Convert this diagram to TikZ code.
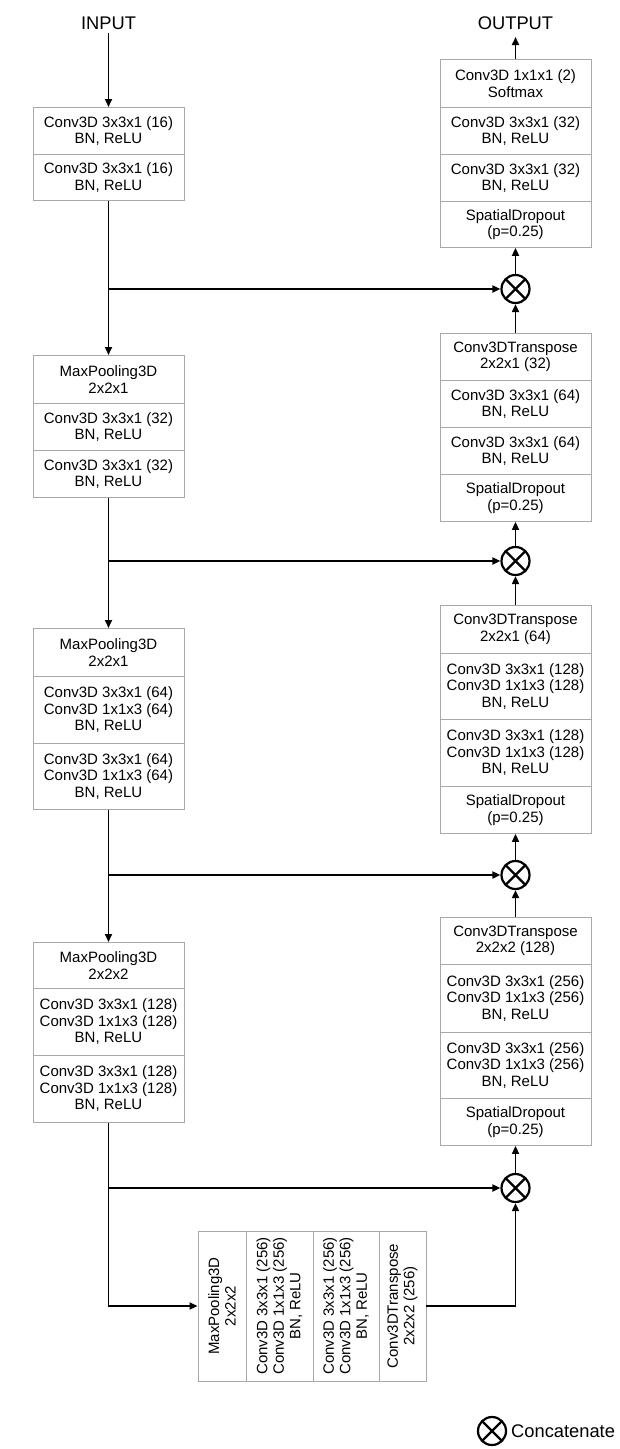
\documentclass[tikz,border=0pt]{standalone}
\usepackage{fontspec}
\setmainfont{Liberation Sans}
\usetikzlibrary{arrows.meta}
\definecolor{boxgray}{HTML}{A8A8A8}
\begin{document}
\begin{tikzpicture}[x=1pt,y=-1pt,
  blk/.style={draw=boxgray, line width=0.9pt, minimum width=151pt, inner sep=0pt,
    align=center, font=\fontsize{15}{16.5}\selectfont, anchor=north},
  vblk/.style={draw=boxgray, line width=0.9pt, minimum width=150pt, inner sep=0pt,
    align=center, font=\fontsize{15}{16.5}\selectfont, rotate=90},
  conc/.style={circle, draw, line width=2.2pt, minimum size=28pt, inner sep=0pt,
    path picture={\draw[line width=2.2pt] (path picture bounding box.north west) -- (path picture bounding box.south east)
      (path picture bounding box.north east) -- (path picture bounding box.south west);}},
  lbl/.style={font=\fontsize{18.3}{20}\selectfont},
  arr/.style={line width=1.8pt, -{Triangle[length=8pt,width=7pt]}},
  ln/.style={line width=1.8pt}
]
\fill[white] (0,0) rectangle (620,1449);
\useasboundingbox (0,0) rectangle (620,1449);

% labels
\node[lbl] (in) at (108.5,23) {INPUT};
\node[lbl] (out) at (515.5,23) {OUTPUT};

% left column
\node[blk, minimum height=47pt] (L1a) at (108.5,107) {Conv3D 3x3x1 (16)\\BN, ReLU};
\node[blk, minimum height=46pt] (L1b) at (108.5,154) {Conv3D 3x3x1 (16)\\BN, ReLU};

\node[blk, minimum height=48pt] (L2a) at (108.5,355) {MaxPooling3D\\2x2x1};
\node[blk, minimum height=47pt] (L2b) at (108.5,403) {Conv3D 3x3x1 (32)\\BN, ReLU};
\node[blk, minimum height=47pt] (L2c) at (108.5,450) {Conv3D 3x3x1 (32)\\BN, ReLU};

\node[blk, minimum height=48pt] (L3a) at (108.5,628) {MaxPooling3D\\2x2x1};
\node[blk, minimum height=67pt] (L3b) at (108.5,676) {Conv3D 3x3x1 (64)\\Conv3D 1x1x3 (64)\\BN, ReLU};
\node[blk, minimum height=66pt] (L3c) at (108.5,743) {Conv3D 3x3x1 (64)\\Conv3D 1x1x3 (64)\\BN, ReLU};

\node[blk, minimum height=46pt] (L4a) at (108.5,942) {MaxPooling3D\\2x2x2};
\node[blk, minimum height=67pt] (L4b) at (108.5,988) {Conv3D 3x3x1 (128)\\Conv3D 1x1x3 (128)\\BN, ReLU};
\node[blk, minimum height=67pt] (L4c) at (108.5,1055) {Conv3D 3x3x1 (128)\\Conv3D 1x1x3 (128)\\BN, ReLU};

% right column
\node[blk, minimum height=48pt] (R1a) at (515.5,59) {Conv3D 1x1x1 (2)\\Softmax};
\node[blk, minimum height=47pt] (R1b) at (515.5,107) {Conv3D 3x3x1 (32)\\BN, ReLU};
\node[blk, minimum height=47pt] (R1c) at (515.5,154) {Conv3D 3x3x1 (32)\\BN, ReLU};
\node[blk, minimum height=46pt] (R1d) at (515.5,201) {SpatialDropout\\(p=0.25)};
\node[conc] (C1) at (515.5,289) {};

\node[blk, minimum height=47pt] (R2a) at (515.5,333) {Conv3DTranspose\\2x2x1 (32)};
\node[blk, minimum height=47pt] (R2b) at (515.5,380) {Conv3D 3x3x1 (64)\\BN, ReLU};
\node[blk, minimum height=47pt] (R2c) at (515.5,427) {Conv3D 3x3x1 (64)\\BN, ReLU};
\node[blk, minimum height=47pt] (R2d) at (515.5,474) {SpatialDropout\\(p=0.25)};
\node[conc] (C2) at (515.5,561) {};

\node[blk, minimum height=48pt] (R3a) at (515.5,605) {Conv3DTranspose\\2x2x1 (64)};
\node[blk, minimum height=66pt] (R3b) at (515.5,653) {Conv3D 3x3x1 (128)\\Conv3D 1x1x3 (128)\\BN, ReLU};
\node[blk, minimum height=67pt] (R3c) at (515.5,719) {Conv3D 3x3x1 (128)\\Conv3D 1x1x3 (128)\\BN, ReLU};
\node[blk, minimum height=47pt] (R3d) at (515.5,786) {SpatialDropout\\(p=0.25)};
\node[conc] (C3) at (515.5,875) {};

\node[blk, minimum height=47pt] (R4a) at (515.5,917) {Conv3DTranspose\\2x2x2 (128)};
\node[blk, minimum height=68pt] (R4b) at (515.5,964) {Conv3D 3x3x1 (256)\\Conv3D 1x1x3 (256)\\BN, ReLU};
\node[blk, minimum height=66pt] (R4c) at (515.5,1032) {Conv3D 3x3x1 (256)\\Conv3D 1x1x3 (256)\\BN, ReLU};
\node[blk, minimum height=47pt] (R4d) at (515.5,1098) {SpatialDropout\\(p=0.25)};
\node[conc] (C4) at (515.5,1188) {};

% bottom block
\node[vblk, minimum height=48pt] (B1) at (222,1306) {MaxPooling3D\\2x2x2};
\node[vblk, minimum height=67pt] (B2) at (279.5,1306) {Conv3D 3x3x1 (256)\\Conv3D 1x1x3 (256)\\BN, ReLU};
\node[vblk, minimum height=66pt] (B3) at (346,1306) {Conv3D 3x3x1 (256)\\Conv3D 1x1x3 (256)\\BN, ReLU};
\node[vblk, minimum height=47pt] (B4) at (402.5,1306) {Conv3DTranspose\\2x2x2 (256)};

% junctions
\coordinate (j1) at (108.5,289);
\coordinate (j2) at (108.5,561);
\coordinate (j3) at (108.5,875);
\coordinate (j4) at (108.5,1188);

% connectors
\draw[arr] (in) -- (L1a.north);
\draw[arr] (L1b.south) -- (L2a.north);
\draw[arr] (j1) -- (C1.west);
\draw[arr] (L2c.south) -- (L3a.north);
\draw[arr] (j2) -- (C2.west);
\draw[arr] (L3c.south) -- (L4a.north);
\draw[arr] (j3) -- (C3.west);
\draw[arr] (L4c.south) |- (B1.north);
\draw[arr] (j4) -- (C4.west);
\draw[arr] (B4.south) -| (C4.south);
\draw[arr] (C4.north) -- (R4d.south);
\draw[arr] (R4a.north) -- (C3.south);
\draw[arr] (C3.north) -- (R3d.south);
\draw[arr] (R3a.north) -- (C2.south);
\draw[arr] (C2.north) -- (R2d.south);
\draw[arr] (R2a.north) -- (C1.south);
\draw[arr] (C1.north) -- (R1d.south);
\draw[arr, shorten >=4pt] (R1a.north) -- (out);

% legend
\node[conc] (lg) at (492,1431) {};
\node[lbl, anchor=west, inner sep=0pt] (lgt) at (511,1431) {Concatenate};
\end{tikzpicture}
\end{document}
